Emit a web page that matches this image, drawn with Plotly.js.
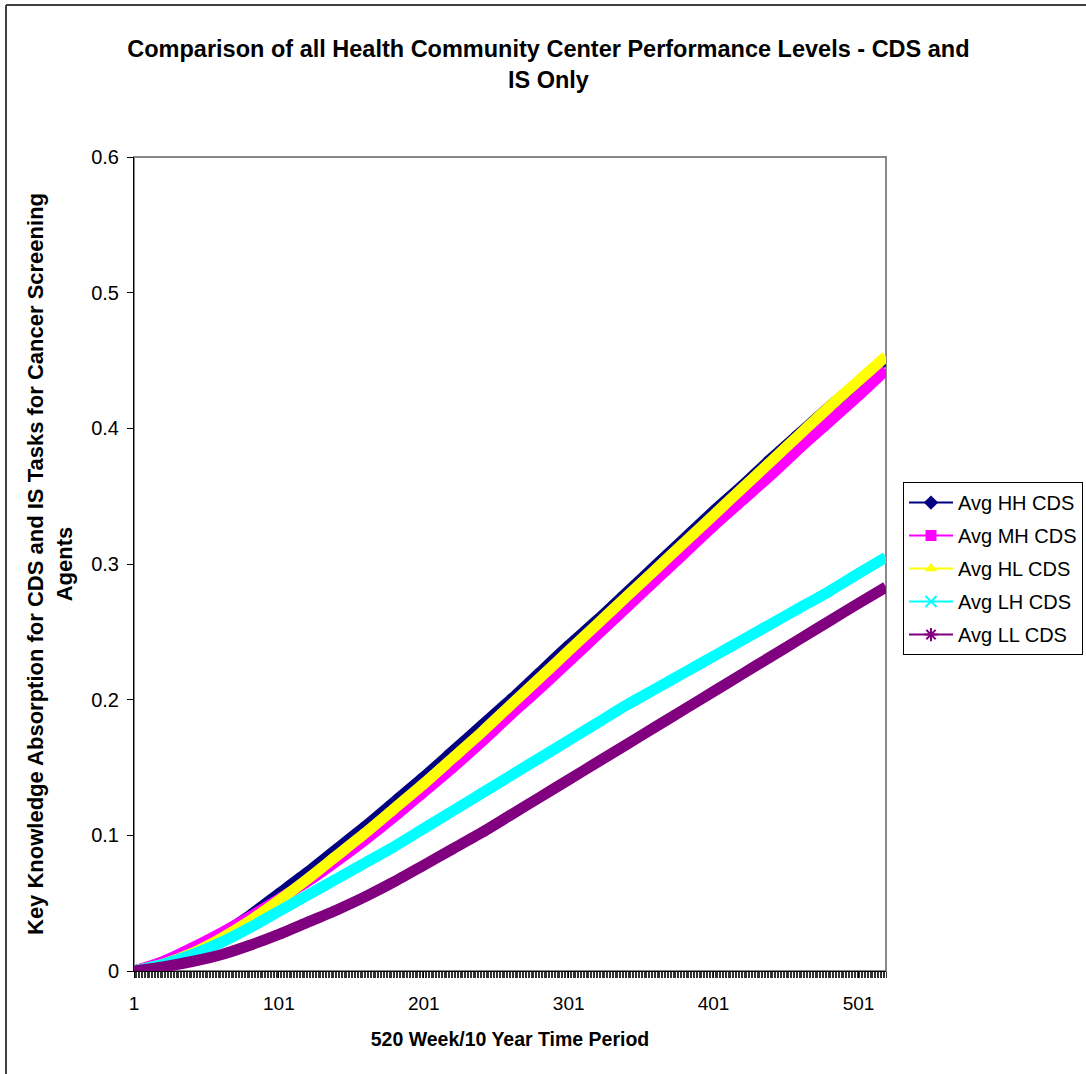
<!DOCTYPE html>
<html>
<head>
<meta charset="utf-8">
<script src="https://cdn.plot.ly/plotly-3.0.1.min.js"></script>
<style>
  html, body { margin: 0; padding: 0; background: #fff; }
  #chart { width: 1086px; height: 1074px; }
</style>
</head>
<body>
<div id="chart"></div>
<script>
const weeks = [1, 21, 41, 61, 81, 101, 121, 141, 161, 181, 201, 221, 241, 261, 281,
               301, 321, 341, 361, 381, 401, 421, 441, 461, 481, 501, 520];

const avgHH = [0.000, 0.006, 0.015, 0.027, 0.041, 0.057, 0.073, 0.090, 0.107, 0.125, 0.143,
               0.162, 0.181, 0.200, 0.220, 0.240, 0.259, 0.279, 0.299, 0.319, 0.339, 0.358,
               0.378, 0.397, 0.416, 0.434, 0.451];
const avgMH = [0.000, 0.007, 0.017, 0.028, 0.040, 0.053, 0.066, 0.081, 0.097, 0.114, 0.132,
               0.150, 0.169, 0.189, 0.208, 0.228, 0.248, 0.268, 0.288, 0.308, 0.328, 0.347,
               0.366, 0.386, 0.405, 0.424, 0.443];
const avgHL = [0.000, 0.005, 0.013, 0.024, 0.037, 0.052, 0.068, 0.085, 0.102, 0.120, 0.138,
               0.157, 0.176, 0.196, 0.216, 0.236, 0.256, 0.276, 0.296, 0.316, 0.336, 0.356,
               0.376, 0.396, 0.416, 0.435, 0.453];
const avgLH = [0.000, 0.005, 0.012, 0.021, 0.032, 0.044, 0.056, 0.068, 0.080, 0.092, 0.105,
               0.118, 0.131, 0.144, 0.157, 0.170, 0.183, 0.196, 0.208, 0.220, 0.232, 0.244,
               0.256, 0.268, 0.280, 0.293, 0.305];
const avgLL = [0.000, 0.003, 0.007, 0.012, 0.019, 0.027, 0.036, 0.045, 0.055, 0.066, 0.078,
               0.090, 0.102, 0.115, 0.128, 0.141, 0.154, 0.167, 0.180, 0.193, 0.206, 0.219,
               0.232, 0.245, 0.258, 0.271, 0.283];

const seriesNames = ["Avg HH CDS", "Avg MH CDS", "Avg HL CDS", "Avg LH CDS", "Avg LL CDS"];
const seriesValues = [avgHH, avgMH, avgHL, avgLH, avgLL];
const colors = ["#000080", "#FF00FF", "#FFFF00", "#00FFFF", "#800080"];
const symbols = ["diamond", "square", "triangle-up", "x-thin-open", "asterisk-open"];

const FONT = 'Arial, "Liberation Sans", sans-serif';

const traces = [];
// thick bands (dense markers in the original)
seriesValues.forEach((vals, i) => {
  traces.push({
    type: "scatter", mode: "lines", x: weeks, y: vals,
    name: seriesNames[i], showlegend: false, hoverinfo: "skip",
    legendgroup: "band" + i,
    line: { color: colors[i], width: 11, shape: "spline", smoothing: 0.6 }
  });
});
// legend entries
seriesNames.forEach((n, i) => {
  traces.push({
    type: "scatter", mode: "lines+markers", x: [null], y: [null], name: n,
    legendgroup: "g" + i,
    line: { color: colors[i], width: 2 },
    marker: { color: colors[i], symbol: symbols[i], size: 11,
              line: { color: colors[i], width: (i >= 3 ? 2 : 0) } }
  });
});

const layout = {
  width: 1086, height: 1074,
  margin: { l: 134, r: 200, t: 157, b: 103, autoexpand: false },
  paper_bgcolor: "#ffffff", plot_bgcolor: "#ffffff",
  font: { family: FONT, color: "#000000", size: 18 },
  title: {
    text: "<b>Comparison of all Health Community Center Performance Levels - CDS and<br>IS Only</b>",
    font: { family: FONT, size: 23.5, color: "#000000" },
    xref: "container", x: 0.505, xanchor: "center",
    yref: "container", y: 1 - 57 / 1074, yanchor: "top"
  },
  xaxis: {
    range: [1, 520], showgrid: false, zeroline: false,
    showline: true, linecolor: "#000000", linewidth: 1,
    tickmode: "linear", tick0: 1, dtick: 100,
    ticks: "outside", ticklen: 6, tickcolor: "#000000",
    ticklabelstandoff: 9,
    tickfont: { family: FONT, size: 19, color: "#000000" },
    minor: { tick0: 1, dtick: 1, ticks: "outside", ticklen: 6, tickcolor: "#333333", tickwidth: 1 },
    title: { text: "<b>520 Week/10 Year Time Period</b>", font: { family: FONT, size: 19.5 }, standoff: 19 }
  },
  yaxis: {
    range: [0, 0.6], showgrid: false, zeroline: false,
    showline: true, linecolor: "#000000", linewidth: 1,
    tickmode: "linear", tick0: 0, dtick: 0.1,
    ticks: "outside", ticklen: 6, tickcolor: "#000000",
    ticklabelstandoff: 4,
    tickfont: { family: FONT, size: 20, color: "#000000" },
    title: {
      text: "<b>Key Knowledge Absorption for CDS and IS Tasks for Cancer Screening<br>Agents</b>",
      font: { family: FONT, size: 22 }, standoff: 12
    }
  },
  legend: {
    x: 1.0226, y: 0.6007, xanchor: "left", yanchor: "top",
    bgcolor: "#ffffff", bordercolor: "#000000", borderwidth: 1,
    font: { family: FONT, size: 20, color: "#000000" },
    itemwidth: 44, tracegroupgap: 4, traceorder: "grouped"
  },
  shapes: [
    // grey plot-area frame (top & right)
    { type: "rect", xref: "paper", yref: "paper", x0: 0, x1: 1, y0: 0, y1: 1,
      line: { color: "#888888", width: 2 }, layer: "below" },
    // outer chart frame (left & top edges)
    { type: "line", xref: "paper", yref: "paper", x0: -0.1702, x1: -0.1702, y0: 1.1867, y1: -0.2,
      line: { color: "#404040", width: 2 } },
    { type: "line", xref: "paper", yref: "paper", x0: -0.1702, x1: 1.3, y0: 1.1867, y1: 1.1867,
      line: { color: "#404040", width: 2 } }
  ],
  showlegend: true
};

Plotly.newPlot("chart", traces, layout, { displayModeBar: false, staticPlot: true });
</script>
</body>
</html>
